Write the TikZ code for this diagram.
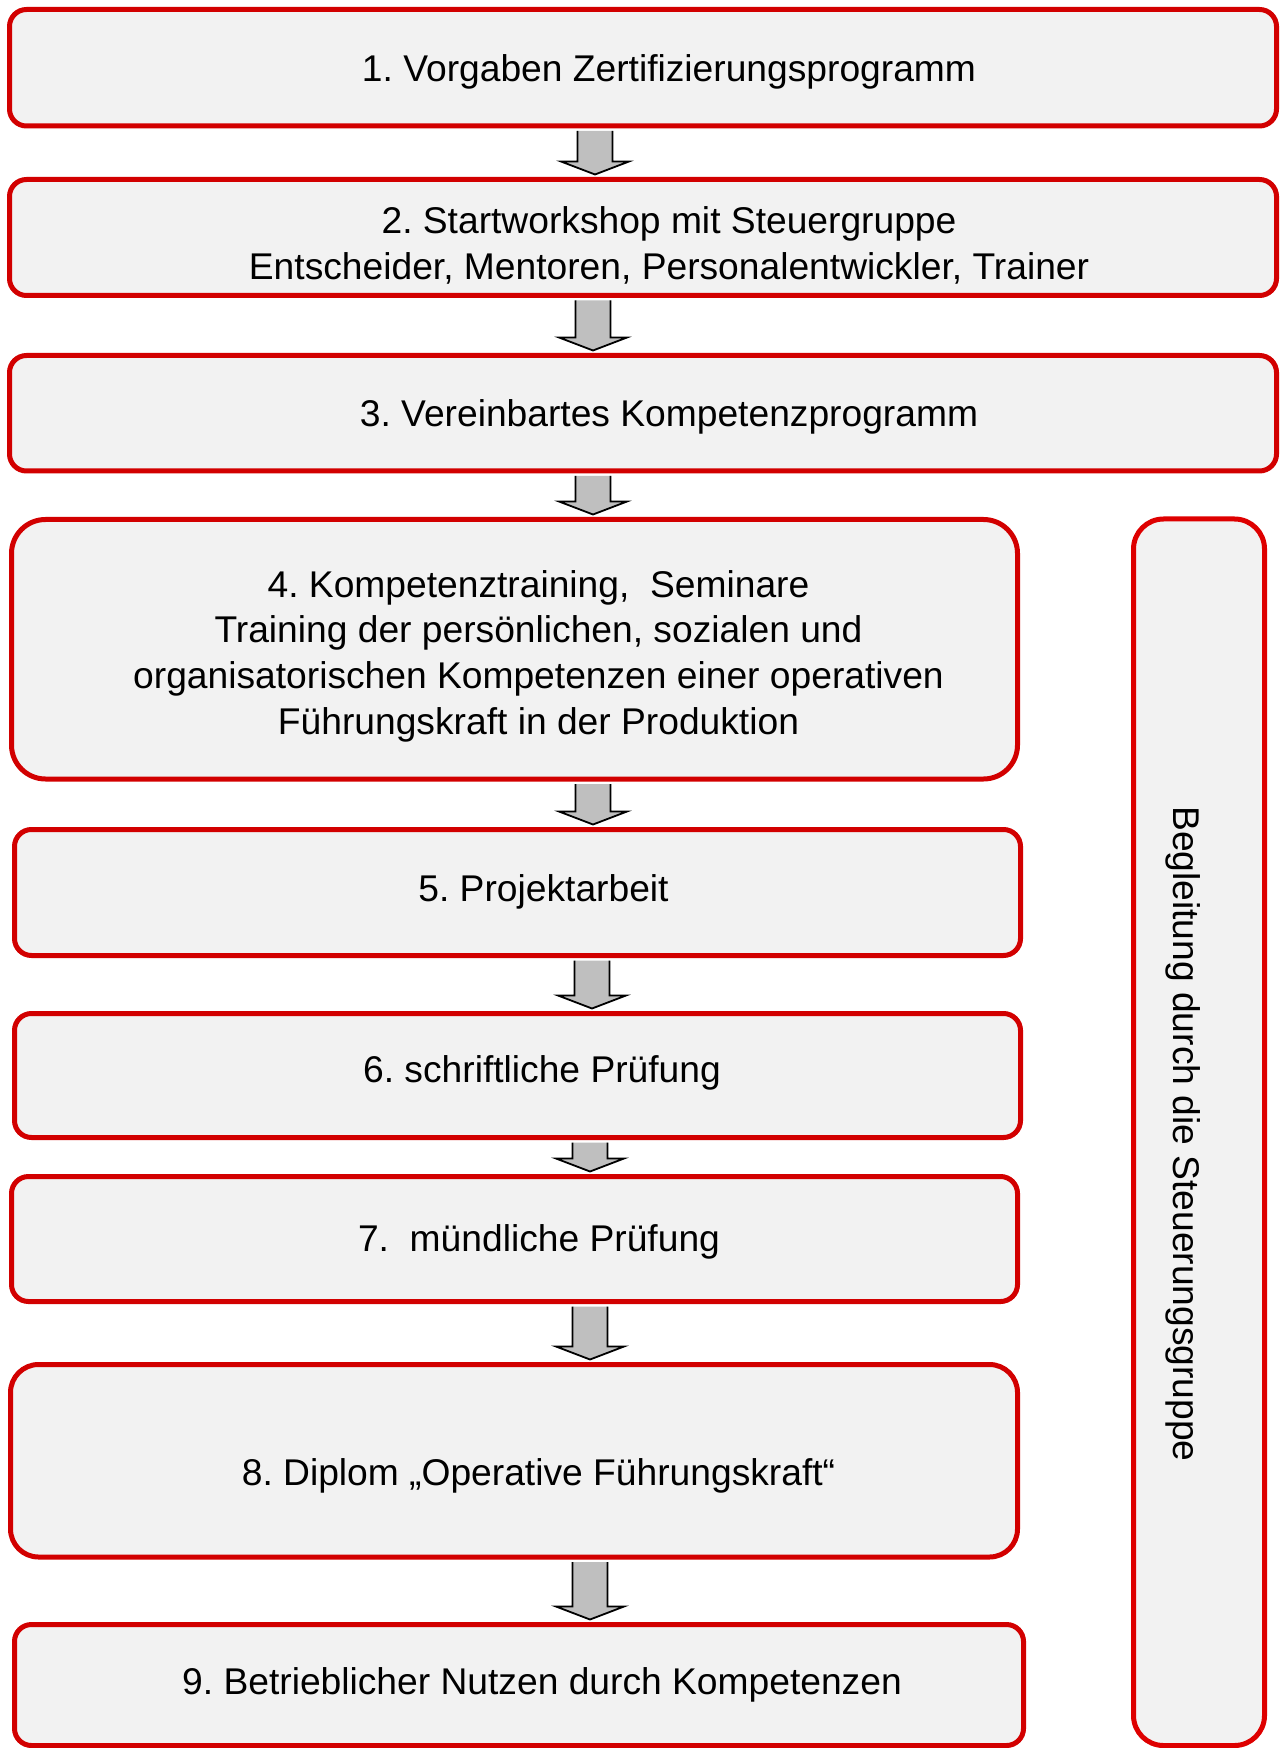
\documentclass[tikz,border=0pt]{standalone}
\usepackage{fontspec}
\setmainfont{Liberation Sans}
\usetikzlibrary{fit,calc}
\definecolor{boxred}{RGB}{210,0,0}
\definecolor{sidered}{RGB}{222,0,0}
\definecolor{boxfill}{RGB}{242,242,242}
\definecolor{arrfill}{RGB}{191,191,191}
\tikzset{
  stepbox/.style={draw=boxred, fill=boxfill, line width=2.5pt, inner sep=0pt, rounded corners=8.5pt},
  steptext/.style={font={\fontsize{18.6pt}{22.8pt}\selectfont\frenchspacing}, align=center, inner sep=0pt},
  blockarr/.style={draw=black, fill=arrfill, line width=0.9pt, line join=miter},
}
% #1 from node, #2 to node, #3 x centre (pt)
\newcommand\blockarrow[3]{%
  \filldraw[blockarr] let \p1=(#1.south), \p2=(#2.north) in
    ({#3-8.75pt},{\y1-1.25pt}) -- ({#3-8.75pt},{\y2+7.75pt}) -- ({#3-17pt},{\y2+7.75pt})
    -- ({#3},{\y2+1.25pt}) -- ({#3+17pt},{\y2+7.75pt}) -- ({#3+8.75pt},{\y2+7.75pt})
    -- ({#3+8.75pt},{\y1-1.25pt});}
\begin{document}
\begin{tikzpicture}[x=0.5pt,y=-0.5pt]
\frenchspacing
\useasboundingbox (0,0) rectangle (1282,1748);
% boxes
\node[stepbox, fit={(9.5,9.5) (1276.5,126)}] (b1) {};
\node[stepbox, fit={(9.5,179.5) (1276.5,295.5)}] (b2) {};
\node[stepbox, fit={(9.5,355.5) (1276.5,471)}] (b3) {};
\node[stepbox, rounded corners=17pt, fit={(11.5,519.5) (1017.5,779)}] (b4) {};
\node[stepbox, fit={(14.5,829.5) (1020.5,955.5)}] (b5) {};
\node[stepbox, fit={(14.5,1013.5) (1020.5,1137.5)}] (b6) {};
\node[stepbox, fit={(11.5,1176.5) (1017.5,1301.5)}] (b7) {};
\node[stepbox, rounded corners=14pt, fit={(10.5,1364.5) (1017.5,1557)}] (b8) {};
\node[stepbox, fit={(14.5,1624.5) (1023.5,1745.5)}] (b9) {};
\node[stepbox, draw=sidered, rounded corners=15pt, fit={(1133.5,519) (1264.5,1745.5)}] (side) {};
% texts
\node[steptext] (t1) at (669,72) {1. Vorgaben Zertifizierungsprogramm};
\node[steptext] (t2) at (669,245.5) {2. Startworkshop mit Steuergruppe\\Entscheider, Mentoren, Personalentwickler, Trainer};
\node[steptext] (t3) at (669,416.5) {3. Vereinbartes Kompetenzprogramm};
\node[steptext] (t4) at (538.5,656) {4. Kompetenztraining,~ Seminare\\Training der persönlichen, sozialen und\\organisatorischen Kompetenzen einer operativen\\Führungskraft in der Produktion};
\node[steptext] (t5) at (543.5,892) {5. Projektarbeit};
\node[steptext] (t6) at (542,1073) {6. schriftliche Prüfung};
\node[steptext] (t7) at (539,1242) {7.~ mündliche Prüfung};
\node[steptext] (t8) at (538.5,1476) {8. Diplom „Operative Führungskraft“};
\node[steptext] (t9) at (542,1685) {9. Betrieblicher Nutzen durch Kompetenzen};
\node[steptext, rotate=-90] (tside) at (1183,1134) {Begleitung durch die Steuerungsgruppe};
% arrows
\blockarrow{b1}{b2}{297.5pt}
\blockarrow{b2}{b3}{296.5pt}
\blockarrow{b3}{b4}{296.5pt}
\blockarrow{b4}{b5}{296.5pt}
\blockarrow{b5}{b6}{296pt}
\blockarrow{b6}{b7}{295pt}
\blockarrow{b7}{b8}{295pt}
\blockarrow{b8}{b9}{295pt}
\end{tikzpicture}
\end{document}
